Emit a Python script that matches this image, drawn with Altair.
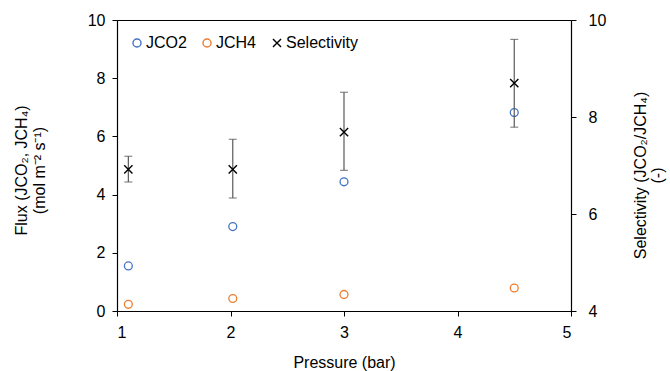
import altair as alt
import pandas as pd

pressure = [1.1, 2.02, 3.0, 4.5]
j_co2 = [1.55, 2.90, 4.44, 6.82]
j_ch4 = [0.23, 0.43, 0.57, 0.79]
selectivity = [6.92, 6.92, 7.69, 8.70]
sel_low = [6.66, 6.33, 6.90, 7.79]
sel_high = [7.19, 7.54, 8.51, 9.60]

series_names = ["JCO2", "JCH4", "Selectivity"]
series_colors = ["#4472C4", "#ED7D31", "#000000"]
x_path = "M-1,-1L1,1M-1,1L1,-1"
series_shapes = ["circle", "circle", x_path]

FONT = "Liberation Sans"

flux_df = pd.DataFrame({
    "pressure": pressure * 2,
    "flux": j_co2 + j_ch4,
    "series": ["JCO2"] * len(pressure) + ["JCH4"] * len(pressure),
})
sel_df = pd.DataFrame({
    "pressure": pressure,
    "sel": selectivity,
    "lo": sel_low,
    "hi": sel_high,
    "series": ["Selectivity"] * len(pressure),
})

x_enc = alt.X("pressure:Q", scale=alt.Scale(domain=[1, 5], nice=False, zero=False),
              axis=alt.Axis(values=[1, 2, 3, 4, 5], title="Pressure (bar)", format="d",
                            labelPadding=8, titlePadding=14))

color_enc = alt.Color("series:N", scale=alt.Scale(domain=series_names, range=series_colors),
                      legend=alt.Legend(orient="none", direction="horizontal", legendX=12, legendY=15,
                                        title=None, labelFontSize=16, symbolSize=65,
                                        symbolStrokeWidth=1.4, labelOffset=1, columnPadding=12,
                                        padding=0, labelFont=FONT, labelColor="#000000"))
shape_enc = alt.Shape("series:N", scale=alt.Scale(domain=series_names, range=series_shapes),
                      legend=None)

left_axis = alt.Axis(values=[0, 2, 4, 6, 8, 10],
                     title=["Flux (JCO₂, JCH₄)", "(mol m⁻² s⁻¹)"],
                     titleAngle=270, titleAlign="center", titleBaseline="top",
                     titleX=-104, titleY=150, titleLineHeight=18, labelPadding=7)

flux_layer = alt.Chart(flux_df).mark_point(filled=False, size=62, strokeWidth=1.3, opacity=1).encode(
    x=x_enc,
    y=alt.Y("flux:Q", scale=alt.Scale(domain=[0, 10], nice=False), axis=left_axis),
    color=color_enc,
    shape=shape_enc,
)

right_title = ["Selectivity  (JCO₂/JCH₄)", "(-)"]
right_axis = alt.Axis(orient="right", values=[4, 6, 8, 10], title=right_title,
                      titleAngle=270, titleAlign="center", titleBaseline="top",
                      titleX=61, titleY=155, titleLineHeight=17, labelPadding=12)

def right_y(field):
    return alt.Y(field, scale=alt.Scale(domain=[4, 10], nice=False, zero=False), axis=right_axis)

err_color = "#595959"
rule_layer = alt.Chart(sel_df).mark_rule(color=err_color, strokeWidth=1.2).encode(
    x=alt.X("pressure:Q"),
    y=right_y("lo:Q"),
    y2="hi:Q",
)
cap_hi = alt.Chart(sel_df).mark_tick(color=err_color, orient="horizontal", size=8, thickness=1.2).encode(
    x=alt.X("pressure:Q"),
    y=right_y("hi:Q"),
)
cap_lo = alt.Chart(sel_df).mark_tick(color=err_color, orient="horizontal", size=8, thickness=1.2).encode(
    x=alt.X("pressure:Q"),
    y=right_y("lo:Q"),
)
sel_points = alt.Chart(sel_df).mark_point(filled=False, size=68, strokeWidth=1.4, opacity=1).encode(
    x=alt.X("pressure:Q"),
    y=right_y("sel:Q"),
    color=color_enc,
    shape=shape_enc,
)

right_layer = alt.layer(rule_layer, cap_hi, cap_lo, sel_points)

chart = alt.layer(flux_layer, right_layer).resolve_scale(y="independent").properties(
    width=454, height=291,
    background="#ffffff",
    autosize=alt.AutoSizeParams(type="none"),
    padding={"left": 117, "top": 20, "right": 99, "bottom": 60},
).configure_view(
    stroke="#000000", strokeWidth=1
).configure_axis(
    grid=False, domainColor="#000000", domainWidth=1.2, tickColor="#000000", tickSize=5,
    tickWidth=1, labelFont=FONT, labelFontSize=16, labelColor="#000000",
    titleFont=FONT, titleFontSize=16, titleFontWeight="normal", titleColor="#000000",
)

chart.save("out.html", embed_options={"renderer": "svg", "actions": False})
